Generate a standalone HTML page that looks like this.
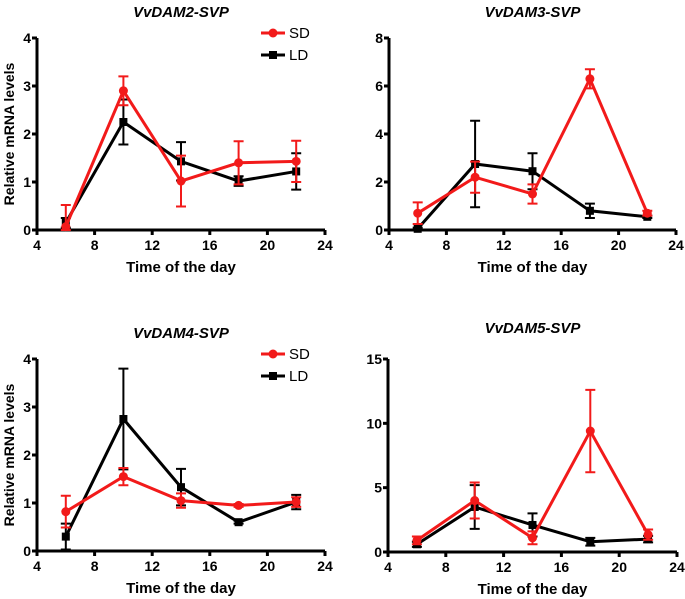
<!DOCTYPE html>
<html><head><meta charset="utf-8"><style>
html,body{margin:0;padding:0;background:#fff;}
svg{display:block;font-family:"Liberation Sans",Arial,sans-serif;}
</style></head><body>
<svg id="c" width="685" height="599" viewBox="0 0 685 599"></svg>
<script>
const hours = [6, 10, 14, 18, 22];
const titles = ["VvDAM2-SVP", "VvDAM3-SVP", "VvDAM4-SVP", "VvDAM5-SVP"];
const sdVals = [[0.07, 2.9, 1.02, 1.4, 1.43],[0.7, 2.2, 1.5, 6.3, 0.7],[0.82, 1.55, 1.05, 0.95, 1.02],[0.9, 4.0, 1.1, 9.4, 1.35]];
const sdErr = [[0.45, 0.3, 0.53, 0.45, 0.43],[0.45, 0.65, 0.4, 0.4, 0.1],[0.33, 0.18, 0.15, 0.03, 0.1],[0.3, 1.4, 0.5, 3.2, 0.4]];
const ldVals = [[0.15, 2.25, 1.43, 1.02, 1.22],[0.05, 2.75, 2.45, 0.8, 0.55],[0.3, 2.75, 1.33, 0.6, 1.02],[0.6, 3.5, 2.1, 0.8, 1.0]];
const ldErr = [[0.1, 0.47, 0.4, 0.1, 0.38],[0.05, 1.8, 0.75, 0.3, 0.05],[0.27, 1.05, 0.38, 0.03, 0.15],[0.2, 1.7, 0.9, 0.3, 0.25]];
const yMax = [4, 8, 4, 15];
const yTicks = [[0,1,2,3,4],[0,2,4,6,8],[0,1,2,3,4],[0,5,10,15]];
const xTicks = [4, 8, 12, 16, 20, 24];

const svg = document.getElementById('c');
const NS = 'http://www.w3.org/2000/svg';
const RED = '#f21a1a';
function mk(tag, attrs, parent){const e=document.createElementNS(NS,tag);for(const k in attrs)e.setAttribute(k,attrs[k]);(parent||svg).appendChild(e);return e;}
const layout = [
 {x0:37,x1:325,y0:230,y1:38,ty:12,showY:true,legend:true},
 {x0:389,x1:676,y0:230,y1:38,ty:12,showY:false,legend:false},
 {x0:37,x1:325,y0:551,y1:359,ty:333,showY:true,legend:true},
 {x0:388,x1:677,y0:552,y1:359,ty:328,showY:false,legend:false}
];
layout.forEach((L,p)=>{
  const g = mk('g',{});
  
  
  const sx = v => L.x0 + (v-4)/20*(L.x1-L.x0);
  const sy = v => L.y0 - v/yMax[p]*(L.y0-L.y1);
  const t = mk('text',{x:(L.x0+L.x1)/2,y:L.ty+5,'text-anchor':'middle','font-size':15,'font-weight':'bold','font-style':'italic'},g);
  t.textContent = titles[p];
  
  
  const ax = mk('path',{d:`M${L.x0} ${L.y1}V${L.y0}H${L.x1}`,stroke:'#000','stroke-width':3,fill:'none'},g);
  
  
  yTicks[p].forEach(v=>{
    mk('line',{x1:L.x0-5,x2:L.x0,y1:sy(v),y2:sy(v),stroke:'#000','stroke-width':3},g);
    const tt = mk('text',{x:L.x0-6,y:sy(v)+5,'text-anchor':'end','font-size':14,'font-weight':'bold'},g);
    tt.textContent = v;
    
    
  });
  xTicks.forEach(v=>{
    mk('line',{x1:sx(v),x2:sx(v),y1:L.y0,y2:L.y0+5,stroke:'#000','stroke-width':3},g);
    const tt = mk('text',{x:sx(v),y:L.y0+20,'text-anchor':'middle','font-size':14,'font-weight':'bold'},g);
    tt.textContent = v;
    
    
  });
  const xl = mk('text',{x:(L.x0+L.x1)/2,y:L.y0+42,'text-anchor':'middle','font-size':15,'font-weight':'bold'},g);
  xl.textContent = 'Time of the day';
  
  
  if(L.showY){
    const cy=(L.y0+L.y1)/2;
    const yl = mk('text',{x:14,y:cy,'text-anchor':'middle','font-size':14,'font-weight':'bold',transform:`rotate(-90 14 ${cy})`},g);
    yl.textContent = 'Relative mRNA levels';
    
    
  }
  [[ldVals,ldErr,'#000','sq','ld-series'],[sdVals,sdErr,RED,'ci','sd-series']].forEach(([vals,errs,col,shape,name])=>{
    const sg = mk('g',{},g);
    
    
    mk('polyline',{points:hours.map((h,i)=>sx(h)+','+sy(vals[p][i])).join(' '),fill:'none',stroke:col,'stroke-width':3},sg);
    hours.forEach((h,i)=>{
      const x=sx(h), v=vals[p][i], e=errs[p][i];
      const a=sy(v+e), b=sy(Math.max(0,v-e));
      mk('path',{d:`M${x} ${a}V${b}M${x-5} ${a}H${x+5}M${x-5} ${b}H${x+5}`,stroke:col,'stroke-width':2,fill:'none'},sg);
      const m = shape==='sq'? mk('rect',{x:x-4,y:sy(v)-4,width:8,height:8,fill:col},sg) : mk('circle',{cx:x,cy:sy(v),r:4.5,fill:col},sg);
      
      
    });
  });
  if(L.legend){
    const ly = L.y1 - 5;
    [['SD',RED,'ci',0],['LD','#000','sq',22]].forEach(([lab,col,sh,dy])=>{
      const lg = mk('g',{},g);
      
      
      const yy = ly + dy;
      mk('line',{x1:261,x2:285,y1:yy,y2:yy,stroke:col,'stroke-width':3},lg);
      if(sh==='ci') mk('circle',{cx:273,cy:yy,r:4.5,fill:col},lg); else mk('rect',{x:269,y:yy-4,width:8,height:8,fill:col},lg);
      const tx = mk('text',{x:289,y:yy+5,'font-size':15},lg);
      tx.textContent = lab;
    });
  }
});
</script>
</body></html>
